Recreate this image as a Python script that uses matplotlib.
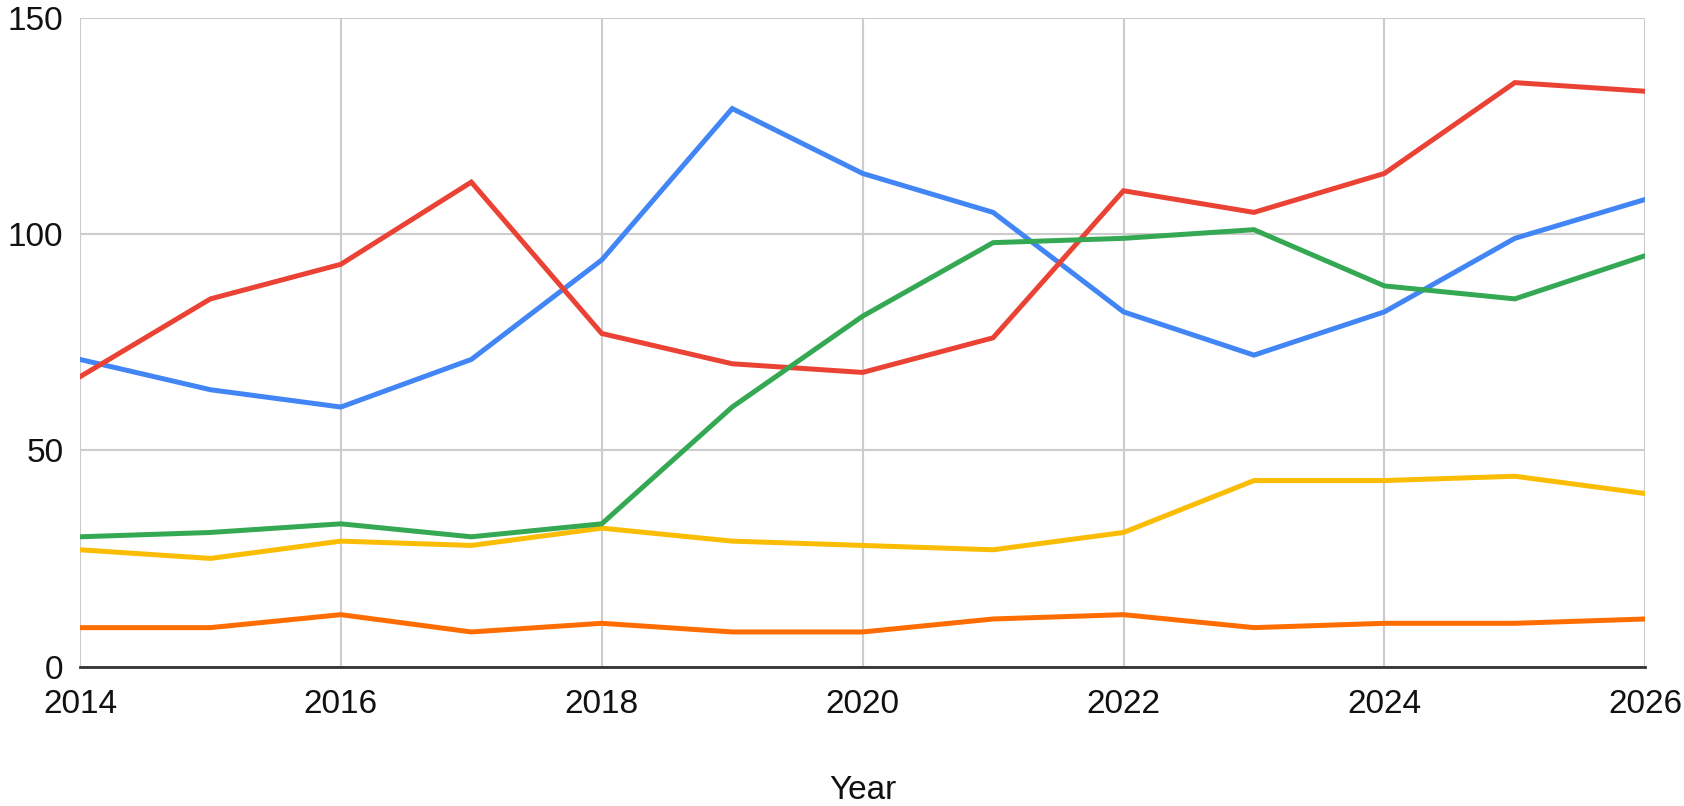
import matplotlib
matplotlib.use("Agg")
import matplotlib.pyplot as plt

plt.rcParams['font.family'] = ['Liberation Sans', 'DejaVu Sans']

years = [2014, 2015, 2016, 2017, 2018, 2019, 2020, 2021, 2022, 2023, 2024, 2025, 2026]
blue = [71, 64, 60, 71, 94, 129, 114, 105, 82, 72, 82, 99, 108]
red = [67, 85, 93, 112, 77, 70, 68, 76, 110, 105, 114, 135, 133]
yellow = [27, 25, 29, 28, 32, 29, 28, 27, 31, 43, 43, 44, 40]
green = [30, 31, 33, 30, 33, 60, 81, 98, 99, 101, 88, 85, 95]
orange = [9, 9, 12, 8, 10, 8, 8, 11, 12, 9, 10, 10, 11]

x_ticks = [2014, 2016, 2018, 2020, 2022, 2024, 2026]
y_ticks = [0, 50, 100, 150]

series = [
    (blue, '#4285F4'),
    (red, '#EA4335'),
    (yellow, '#FBBC04'),
    (green, '#34A853'),
    (orange, '#FF6D01'),
]

fig = plt.figure(figsize=(16.84, 8.06), dpi=100)
ax = fig.add_axes([0.0475, 0.173, 0.977 - 0.0475, 0.978 - 0.173])

for vals, col in series:
    ax.plot(years, vals, color=col, lw=3.6, solid_joinstyle='miter', zorder=3)

ax.set_xlim(2014, 2026)
ax.set_ylim(0, 150)
ax.set_xticks(x_ticks)
ax.set_yticks(y_ticks)
ax.set_xticklabels([str(t) for t in x_ticks])
ax.grid(True, color='#cccccc', lw=1.5, zorder=0)
ax.set_axisbelow(True)
for s in ['top', 'right', 'left']:
    ax.spines[s].set_visible(False)
ax.spines['bottom'].set_color('#333333')
ax.spines['bottom'].set_linewidth(2)
ax.spines['bottom'].set_zorder(4)
ax.tick_params(axis='both', length=0, labelsize=24, colors='#111111')
ax.tick_params(axis='y', pad=12)
ax.tick_params(axis='x', pad=16)
ax.set_xlabel('Year', fontsize=24, color='#111111', labelpad=40)

fig.savefig('out.png', dpi=100, facecolor='white')
